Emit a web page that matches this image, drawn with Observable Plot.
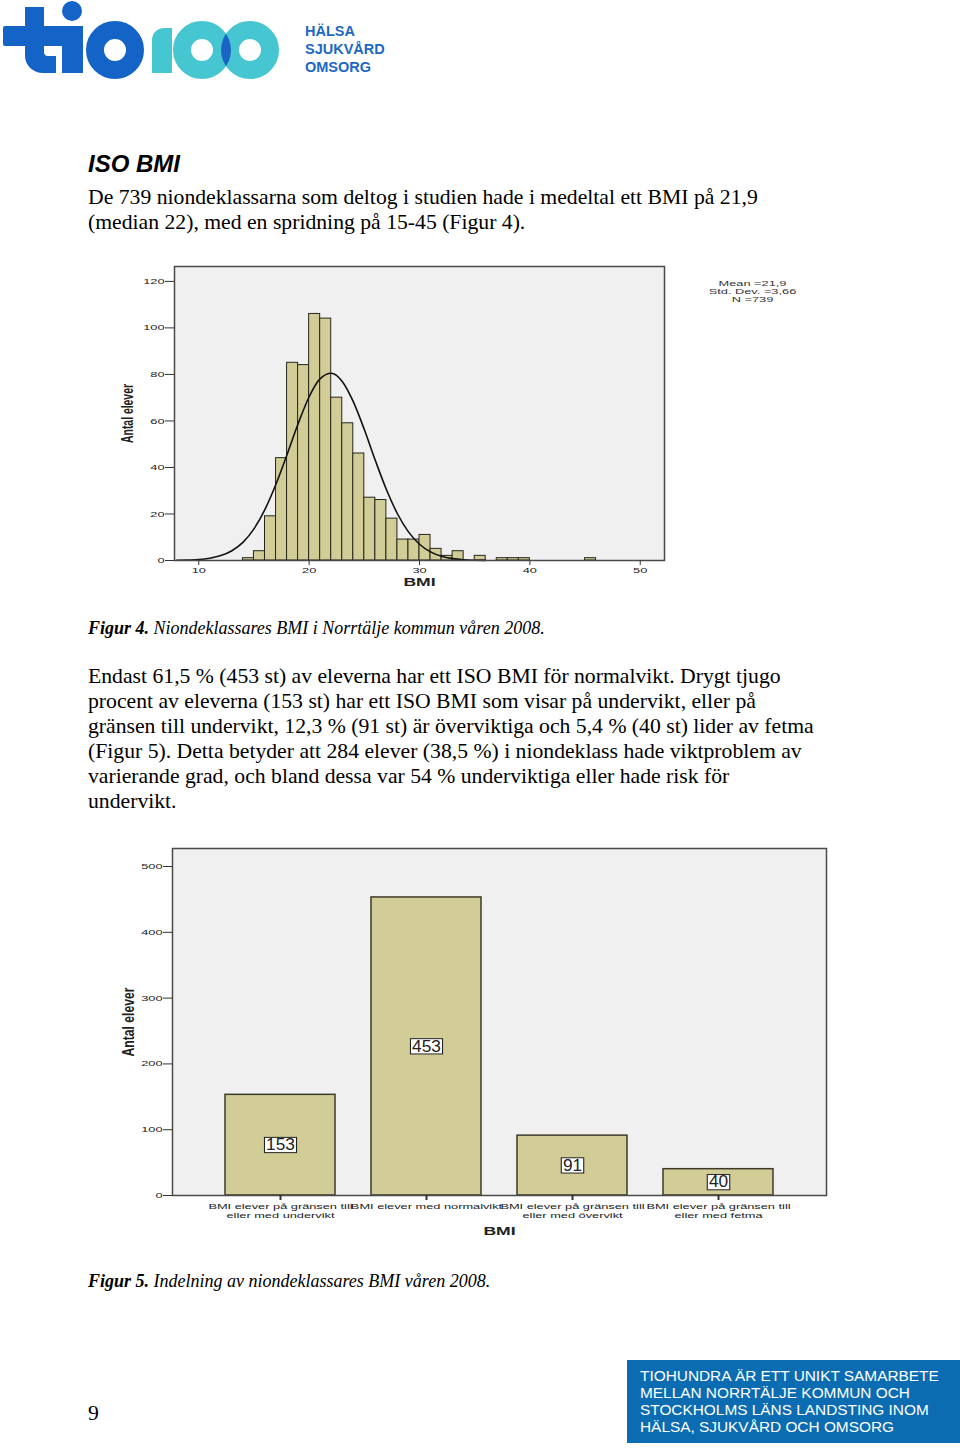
<!DOCTYPE html>
<html>
<head>
<meta charset="utf-8">
<script src="https://cdn.jsdelivr.net/npm/d3@7"></script>
<script src="https://cdn.jsdelivr.net/npm/@observablehq/plot@0.6"></script>
<style>
  body { margin: 0; background: #fff; }
  #page { position: relative; width: 960px; height: 1448px; overflow: hidden; background: #fff; }
  .ln { position: absolute; left: 88px; white-space: pre; font-family: "Liberation Serif", "Times New Roman", serif; font-size: 21.7px; line-height: 25px; color: #000; }
  .cap { font-style: italic; font-size: 18px; }
  .foot { position: absolute; left: 640px; white-space: pre; font-family: "Liberation Sans", Arial, sans-serif; font-size: 15.4px; line-height: 17px; color: #fff; }
  .brand { position: absolute; left: 305px; white-space: pre; font-family: "Liberation Sans", Arial, sans-serif; font-weight: bold; font-size: 14.5px; line-height: 18px; color: #1c68c2; }
  .chart { position: absolute; left: 0; }
</style>
</head>
<body>
<div id="page">
  <svg width="300" height="85" style="position:absolute;left:0;top:0" aria-label="tio100 logo">
    <defs><clipPath id="c3"><circle cx="250" cy="50" r="29"/></clipPath></defs>
    <g fill="#1464c8">
      <rect x="3" y="26" width="80" height="20" rx="2"/>
      <path d="M25 7 H44 V52 Q44 56 48 56 H56 V73 H43 A18 17 0 0 1 25 56 Z"/>
      <rect x="62" y="26" width="21" height="47"/>
      <circle cx="72" cy="11" r="10"/>
    </g>
    <circle cx="115" cy="50" r="20" fill="none" stroke="#1464c8" stroke-width="18"/>
    <path d="M152 40 A12 12 0 0 1 164 28 H172 V73 H152 Z" fill="#45c6d0"/>
    <circle cx="202" cy="50" r="20" fill="none" stroke="#45c6d0" stroke-width="18"/>
    <circle cx="250" cy="50" r="20" fill="none" stroke="#45c6d0" stroke-width="18"/>
    <circle cx="202" cy="50" r="29" fill="#1a62c4" clip-path="url(#c3)"/>
  </svg>
  <div class="brand" style="top:22px">HÄLSA</div>
  <div class="brand" style="top:40px">SJUKVÅRD</div>
  <div class="brand" style="top:58px">OMSORG</div>

  <div style="position:absolute;left:88px;top:149.5px;font-family:'Liberation Sans',Arial,sans-serif;font-weight:bold;font-style:italic;font-size:24px;line-height:28px;">ISO BMI</div>
  <div class="ln" style="top:184.5px">De 739 niondeklassarna som deltog i studien hade i medeltal ett BMI på 21,9</div>
  <div class="ln" style="top:209.5px">(median 22), med en spridning på 15-45 (Figur 4).</div>

  <div id="chart1" class="chart" style="top:250px"></div>

  <div class="ln cap" style="top:615.5px"><b>Figur 4.</b> Niondeklassares BMI i Norrtälje kommun våren 2008.</div>

  <div class="ln" style="top:664px">Endast 61,5 % (453 st) av eleverna har ett ISO BMI för normalvikt. Drygt tjugo</div>
  <div class="ln" style="top:689px">procent av eleverna (153 st) har ett ISO BMI som visar på undervikt, eller på</div>
  <div class="ln" style="top:714px">gränsen till undervikt, 12,3 % (91 st) är överviktiga och 5,4 % (40 st) lider av fetma</div>
  <div class="ln" style="top:739px">(Figur 5). Detta betyder att 284 elever (38,5 %) i niondeklass hade viktproblem av</div>
  <div class="ln" style="top:764px">varierande grad, och bland dessa var 54 % underviktiga eller hade risk för</div>
  <div class="ln" style="top:789px">undervikt.</div>

  <div id="chart2" class="chart" style="top:830px"></div>

  <div class="ln cap" style="top:1268.5px"><b>Figur 5.</b> Indelning av niondeklassares BMI våren 2008.</div>

  <div class="ln" style="top:1400.5px">9</div>

  <div style="position:absolute;left:627px;top:1360px;width:333px;height:83px;background:#0b6cb2"></div>
  <div class="foot" style="top:1366.5px">TIOHUNDRA ÄR ETT UNIKT SAMARBETE</div>
  <div class="foot" style="top:1383.5px">MELLAN NORRTÄLJE KOMMUN OCH</div>
  <div class="foot" style="top:1400.5px">STOCKHOLMS LÄNS LANDSTING INOM</div>
  <div class="foot" style="top:1417.5px">HÄLSA, SJUKVÅRD OCH OMSORG</div>
</div>
<script>
// ---------- Data: Figure 4 histogram (BMI, bin width 1) ----------
const binStarts = [14,15,16,17,18,19,20,21,22,23,24,25,26,27,28,29,30,31,32,33,34,35,36,37,38,39,40,41,42,43,44,45];
const binCounts = [1,4,19,44,85,84,106,104,70,59,46,27,26,18,9,9,11,5,2,4,0,2,0,1,1,1,0,0,0,0,0,1];
// Fitted normal curve (Mean 21,9 / SD 3,66 / N 739)
const curveBMI = [8,9,10,11,12,13,14,15,16,17,18,19,20,21,22,23,24,25,26,27,28,29,30,31,32,33,34,35,36];
const curveCount = [0.1,0.2,0.4,1.0,2.1,4.2,7.8,13.6,22.0,32.9,45.6,58.8,70.4,78.2,80.5,77.0,68.3,56.3,43.0,30.5,20.1,12.3,7.0,3.7,1.8,0.8,0.3,0.1,0.05];
const histXTicks = [10,20,30,40,50];
const histYTicks = [0,20,40,60,80,100,120];
const statsLines = ["Mean =21,9", "Std. Dev. =3,66", "N =739"];

// ---------- Data: Figure 5 categories ----------
const categories = [
  "BMI elever på gränsen till\neller med undervikt",
  "BMI elever med normalvikt",
  "BMI elever på gränsen till\neller med övervikt",
  "BMI elever på gränsen till\neller med fetma"
];
const categoryCounts = [153, 453, 91, 40];
const barYTicks = [0,100,200,300,400,500];

const yTitle = "Antal elever";
const xTitle = "BMI";

const barFill = "#d2cd96";
const plotStyle = {fontFamily: "'Liberation Sans', Arial, sans-serif", color: "#222", background: "none", overflow: "visible"};
const narrow = "'Liberation Sans Narrow', 'Liberation Sans', sans-serif";

const bins = binStarts.map((s, i) => ({x0: s, x1: s + 1, n: binCounts[i]})).filter(d => d.n > 0);
const curve = curveBMI.map((x, i) => ({x, y: curveCount[i]}));

const p1 = Plot.plot({
  width: 960, height: 350,
  marginLeft: 174, marginRight: 296, marginTop: 16, marginBottom: 40,
  style: plotStyle,
  x: {domain: [7.8, 52.2]},
  y: {domain: [0, 126.4]},
  marks: [
    Plot.frame({fill: "#f0f0f0", stroke: "none"}),
    Plot.rectY(bins, {x1: "x0", x2: "x1", y: "n", fill: barFill, stroke: "#26261c", strokeWidth: 1}),
    Plot.line(curve, {x: "x", y: "y", stroke: "#111", strokeWidth: 1.6, curve: "monotone-x"}),
    Plot.frame({stroke: "#4a4a4a", strokeWidth: 1.5}),
    Plot.axisY({ticks: histYTicks, tickSize: 9, tickPadding: 1, fontSize: 8, label: null, stroke: "#333"}),
    Plot.axisX({ticks: histXTicks, tickSize: 5, tickPadding: 2, fontSize: 8, label: null, stroke: "#333"}),
    Plot.text([xTitle], {frameAnchor: "bottom", dy: 25, fontWeight: "bold", fontSize: 11, fill: "#222"}),
    Plot.text([yTitle], {frameAnchor: "left", dx: -47, rotate: -90, textAnchor: "middle", lineAnchor: "middle", fontWeight: "bold", fontSize: 17, fontFamily: narrow, fill: "#222"}),
    Plot.text([statsLines.join("\n")], {frameAnchor: "top-right", dx: 88, dy: 25, textAnchor: "middle", lineAnchor: "middle", lineHeight: 1.0, fontSize: 8, fill: "#333"})
  ]
});

const barData = categories.map((c, i) => ({cat: c, n: categoryCounts[i]}));
const p2 = Plot.plot({
  width: 960, height: 420,
  marginLeft: 172, marginRight: 134, marginTop: 18, marginBottom: 55,
  style: plotStyle,
  x: {domain: categories, paddingInner: 0.25, paddingOuter: 0.35},
  y: {domain: [0, 527.4]},
  marks: [
    Plot.frame({fill: "#f0f0f0", stroke: "none"}),
    Plot.barY(barData, {x: "cat", y: "n", fill: barFill, stroke: "#3d3a2a", strokeWidth: 1.5}),
    Plot.text(barData, {x: "cat", y: d => d.n / 2, text: d => String(d.n), fontSize: 16, fill: "#222"}),
    Plot.frame({stroke: "#4a4a4a", strokeWidth: 1.5}),
    Plot.axisY({ticks: barYTicks, tickSize: 9, tickPadding: 1, fontSize: 8, label: null, stroke: "#333"}),
    Plot.axisX({tickSize: 5, tickPadding: 2, fontSize: 8, lineHeight: 1.1, label: null, stroke: "#333", strokeWidth: 2}),
    Plot.text([xTitle], {frameAnchor: "bottom", dy: 39, fontWeight: "bold", fontSize: 11, fill: "#222"}),
    Plot.text([yTitle], {frameAnchor: "left", dx: -44, rotate: -90, textAnchor: "middle", lineAnchor: "middle", fontWeight: "bold", fontSize: 17, fontFamily: narrow, fill: "#222"})
  ]
});

document.getElementById("chart1").appendChild(p1);
document.getElementById("chart2").appendChild(p2);

const texts = (svg, pred) => [...svg.querySelectorAll("text")].filter(pred);
function stretchEl(t, s) {
  const tr = t.getAttribute("transform") || "";
  t.setAttribute("transform", (tr + ` scale(${s},1)`).trim());
}
for (const svg of [p1, p2]) {
  svg.querySelectorAll('g[aria-label="x-axis tick label"] text, g[aria-label="y-axis tick label"] text').forEach(t => stretchEl(t, 1.6));
  texts(svg, t => t.textContent === xTitle).forEach(t => stretchEl(t, 1.6));
}
texts(p1, t => t.textContent.startsWith("Mean")).forEach(t => stretchEl(t, 1.6));
// fit the rotated axis titles to the reference length (scale along the text direction)
function fitLength(svg, target) {
  texts(svg, t => t.textContent === yTitle).forEach(t => {
    const len = t.getComputedTextLength();
    stretchEl(t, target / len);
  });
}
fitLength(p1, 59);
fitLength(p2, 69);

const valueStrings = categoryCounts.map(String);
texts(p2, t => valueStrings.includes(t.textContent) && !t.closest('g[aria-label="y-axis tick label"]')).forEach(t => {
  stretchEl(t, 1.08);
  const b = t.getBBox();
  const r = document.createElementNS("http://www.w3.org/2000/svg", "rect");
  r.setAttribute("x", b.x - 1.5);
  r.setAttribute("y", b.y + 1.5);
  r.setAttribute("width", b.width + 3);
  r.setAttribute("height", b.height - 3);
  r.setAttribute("fill", "#fff");
  r.setAttribute("stroke", "#222");
  r.setAttribute("stroke-width", "1");
  const tr = t.getAttribute("transform");
  if (tr) r.setAttribute("transform", tr);
  t.parentNode.insertBefore(r, t);
});
</script>
</body>
</html>
